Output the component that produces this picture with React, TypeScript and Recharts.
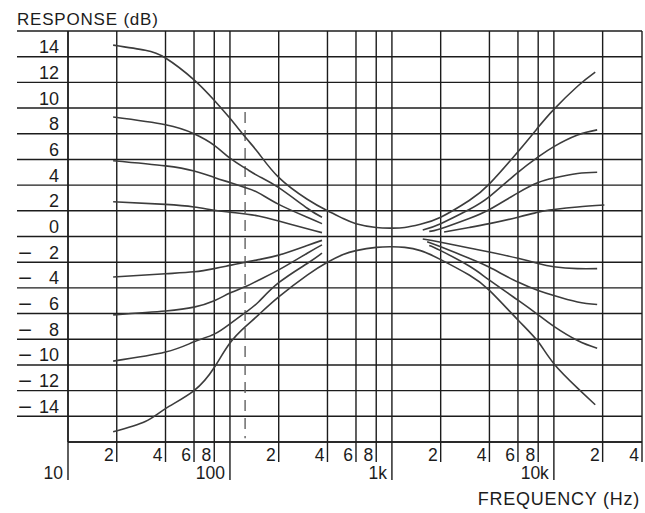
import { LineChart, Line, XAxis, YAxis, CartesianGrid, ReferenceLine, Label } from "recharts";

// frequency (Hz) sample points for each curve
const fullFreqs = [19, 30, 40, 60, 80, 100, 125, 150, 200, 300, 400, 500, 600, 800, 1000, 1200, 1500, 2000, 3000, 4000, 6000, 8000, 10000, 14000, 18000];
const bassFreqs = [19, 40, 60, 80, 100, 125, 150, 200, 300, 370];
const trebleFreqsB = [1550, 2000, 3000, 4000, 6000, 8000, 10000, 14000, 18500];
const trebleFreqsC = [1700, 2000, 3000, 4000, 6000, 8000, 10000, 14000, 18500];
const trebleFreqsD = [2100, 3000, 4000, 6000, 8000, 10000, 14000, 20500];
const trebleFreqsF = [1650, 2000, 3000, 4000, 6000, 8000, 10000, 14000, 18500];

// response (dB)
const maxBoost = [14.9, 14.5, 13.9, 12.2, 10.6, 9.2, 7.7, 6.5, 4.6, 2.9, 2.0, 1.4, 1.0, 0.7, 0.65, 0.7, 0.95, 1.5, 2.8, 4.1, 6.6, 8.5, 9.9, 11.7, 12.8];
const maxCut = [-15.2, -14.4, -13.4, -12.0, -10.2, -8.3, -7.0, -6.1, -4.7, -3.0, -2.0, -1.4, -1.1, -0.85, -0.8, -0.85, -1.1, -1.8, -3.0, -4.2, -6.5, -8.2, -9.9, -11.8, -13.1];

const bassBoost2 = [9.3, 8.7, 8.0, 7.1, 6.1, 5.3, 4.7, 3.8, 2.2, 1.5];
const bassBoost3 = [5.9, 5.5, 5.1, 4.6, 4.2, 3.8, 3.4, 2.5, 1.5, 1.0];
const bassBoost4 = [2.7, 2.5, 2.3, 2.05, 1.9, 1.75, 1.6, 1.2, 0.6, 0.3];
const bassCut4 = [-3.15, -2.9, -2.75, -2.5, -2.25, -2.0, -1.8, -1.45, -0.7, -0.3];
const bassCut3 = [-6.1, -5.8, -5.5, -5.0, -4.4, -3.9, -3.4, -2.6, -1.3, -0.65];
const bassCut2 = [-9.7, -9.0, -8.2, -7.6, -6.8, -5.9, -5.1, -3.6, -2.1, -1.3];

const trebleBoost2 = [0.5, 1.0, 2.1, 3.1, 5.0, 6.2, 7.0, 7.9, 8.3];
const trebleBoost3 = [0.4, 0.6, 1.4, 2.1, 3.4, 4.2, 4.55, 4.9, 5.0];
const trebleBoost4 = [0.35, 0.7, 1.0, 1.5, 1.9, 2.1, 2.3, 2.45];
const trebleCut4 = [-0.2, -0.45, -0.9, -1.2, -1.7, -2.1, -2.35, -2.5, -2.5];
const trebleCut3 = [-0.4, -0.8, -1.7, -2.4, -3.55, -4.2, -4.6, -5.1, -5.3];
const trebleCut2 = [-0.7, -1.1, -2.3, -3.4, -4.95, -6.1, -7.0, -8.1, -8.7];

const X_TICKS = [10, 20, 40, 60, 80, 100, 200, 400, 600, 800, 1000, 2000, 4000, 6000, 8000, 10000, 20000, 35000];
const X_TICK_LABELS = ["10", "2", "4", "6", "8", "100", "2", "4", "6", "8", "1k", "2", "4", "6", "8", "10k", "2", "4"];
const DECADES = [10, 100, 1000, 10000];
const Y_TICKS = [16, 14, 12, 10, 8, 6, 4, 2, 0, -2, -4, -6, -8, -10, -12, -14, -16];

const INK = "#1c1c1c";
const CURVE = "#3c3c3c";
const FONT = "'Liberation Sans', Arial, Helvetica, sans-serif";

const toPoints = (freqs: number[], values: number[]) => freqs.map((f, i) => ({ f, db: values[i] }));

const curves = [
  toPoints(fullFreqs, maxBoost),
  toPoints(fullFreqs, maxCut),
  toPoints(bassFreqs, bassBoost2),
  toPoints(bassFreqs, bassBoost3),
  toPoints(bassFreqs, bassBoost4),
  toPoints(bassFreqs, bassCut4),
  toPoints(bassFreqs, bassCut3),
  toPoints(bassFreqs, bassCut2),
  toPoints(trebleFreqsB, trebleBoost2),
  toPoints(trebleFreqsC, trebleBoost3),
  toPoints(trebleFreqsD, trebleBoost4),
  toPoints(trebleFreqsB, trebleCut4),
  toPoints(trebleFreqsF, trebleCut3),
  toPoints(trebleFreqsC, trebleCut2),
];

function FreqTick(props: any) {
  const { x, y, payload } = props;
  const v = payload.value;
  const major = DECADES.includes(v);
  const len = major ? 38 : 20;
  const label = X_TICK_LABELS[X_TICKS.indexOf(v)];
  return (
    <g>
      <line x1={x} x2={x} y1={y} y2={y + len} stroke={INK} strokeWidth={1.4} />
      <text x={x - (major ? 5 : 3)} y={y + len - 1} textAnchor="end" fontSize={17.5} fontFamily={FONT} fill={INK}>
        {label}
      </text>
    </g>
  );
}

function DbTick(props: any) {
  const { x, y, payload } = props;
  const v = payload.value;
  if (v === -16) return <g />;
  return (
    <g>
      <line x1={x - 51} x2={x} y1={y} y2={y} stroke={INK} strokeWidth={1.4} />
      {v !== 16 && v < 0 && (
        <text x={x - 50} y={y - 3.5} fontSize={18} fontFamily={FONT} fill={INK} textLength={14} lengthAdjust="spacingAndGlyphs">
          −
        </text>
      )}
      {v !== 16 && (
        <text x={x - 9} y={y - 3.5} textAnchor="end" fontSize={18} fontFamily={FONT} fill={INK}>
          {Math.abs(v)}
        </text>
      )}
    </g>
  );
}

export default function App() {
  return (
    <div style={{ position: "absolute", left: 0, top: 0, background: "#fff" }}>
      <LineChart width={645} height={513} margin={{ top: 31, right: 3, left: 0, bottom: 0 }}>
        <CartesianGrid stroke={INK} strokeWidth={1.4} />
        <XAxis
          dataKey="f"
          type="number"
          scale="log"
          domain={[10, 35000]}
          ticks={X_TICKS}
          interval={0}
          height={71}
          tickSize={0}
          tickMargin={0}
          tick={<FreqTick />}
          axisLine={{ stroke: INK, strokeWidth: 1.4 }}
          allowDataOverflow
        >
          <Label
            content={(p: any) => {
              const vb = p.viewBox;
              return (
                <text x={vb.x + vb.width - 2} y={vb.y + 63} textAnchor="end" fontSize={18} letterSpacing={0.75} fontFamily={FONT} fill={INK}>
                  FREQUENCY (Hz)
                </text>
              );
            }}
          />
        </XAxis>
        <YAxis
          type="number"
          domain={[-16, 16]}
          ticks={Y_TICKS}
          interval={0}
          width={68}
          tickSize={0}
          tickMargin={0}
          tick={<DbTick />}
          axisLine={{ stroke: INK, strokeWidth: 1.4 }}
          allowDataOverflow
        >
          <Label
            content={(p: any) => {
              const vb = p.viewBox;
              return (
                <text x={vb.x + 17} y={vb.y - 6} fontSize={17} letterSpacing={0.8} fontFamily={FONT} fill={INK}>
                  RESPONSE (dB)
                </text>
              );
            }}
          />
        </YAxis>
        <ReferenceLine
          segment={[{ x: 124, y: 9.7 }, { x: 124, y: -15.7 }]}
          stroke="#555"
          strokeWidth={1.3}
          strokeDasharray="11 7"
        />
        {curves.map((d, i) => (
          <Line
            key={i}
            data={d}
            dataKey="db"
            type="natural"
            stroke={CURVE}
            strokeWidth={1.6}
            dot={false}
            activeDot={false}
            isAnimationActive={false}
          />
        ))}
      </LineChart>
    </div>
  );
}
